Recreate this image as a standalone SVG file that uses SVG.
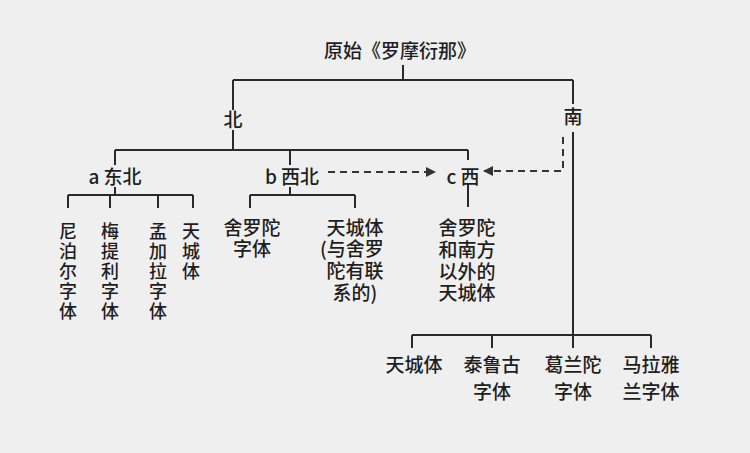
<svg xmlns="http://www.w3.org/2000/svg" width="750" height="453" viewBox="0 0 750 453">
<defs>
<marker id="ah" viewBox="0 0 10 10" refX="9" refY="5" markerWidth="5" markerHeight="5" orient="auto"><path d="M0,0 L10,5 L0,10 z" fill="#333"/></marker>
</defs>
<style>
text{font-family:"Noto Sans CJK SC","Liberation Sans",sans-serif;font-size:19px;font-weight:500;fill:#1e1e1e;text-anchor:middle}
text.v{font-size:18px;writing-mode:vertical-rl;text-anchor:start;letter-spacing:2px}
.l{stroke:#2a2a2a;stroke-width:2;fill:none}
.d{stroke:#333;stroke-width:2;fill:none;stroke-dasharray:7,5}
</style>
<rect width="750" height="453" fill="#efefef"/>
<g id="connectors">
<path class="l" d="M403,65V80M233,80H573M573,80V104M233,80V110M233,130V150M115,150H468M115,150V165M290,150V165M468,150V160M468,183V207"/>
<path class="l" d="M115,187V195M68,195H193M68,195V208M110,195V208M158,195V208M193,195V208"/>
<path class="l" d="M290,187V195M250,195H355M250,195V208M355,195V208"/>
<path class="l" d="M573,132V335M412,335H651M412,335V348M492,335V348M573,335V348M651,335V348"/>
<path class="d" d="M328,172H435" marker-end="url(#ah)"/>
<path class="d" d="M563,137V171H484" marker-end="url(#ah)"/>
</g>
<g id="root"><text x="400" y="58">原始《罗摩衍那》</text></g>
<g id="north"><text x="233" y="127">北</text></g>
<g id="south"><text x="573" y="124">南</text></g>
<g id="ne"><text x="115" y="184">a 东北</text></g>
<g id="nw"><text x="292" y="184">b 西北</text></g>
<g id="w"><text x="463" y="184">c 西</text></g>
<g id="n1"><text class="v" x="68" y="222">尼泊尔字体</text></g>
<g id="n2"><text class="v" x="110" y="222">梅提利字体</text></g>
<g id="n3"><text class="v" x="158" y="222">孟加拉字体</text></g>
<g id="n4"><text class="v" x="191" y="222">天城体</text></g>
<g id="b1"><text x="252" y="235">舍罗陀</text><text x="252" y="256">字体</text></g>
<g id="b2"><text x="355" y="235">天城体</text><text x="352" y="256">(与舍罗</text><text x="355" y="278">陀有联</text><text x="355" y="300">系的)</text></g>
<g id="c1"><text x="467" y="235">舍罗陀</text><text x="467" y="257">和南方</text><text x="467" y="279">以外的</text><text x="467" y="300">天城体</text></g>
<g id="s1"><text x="414" y="372">天城体</text></g>
<g id="s2"><text x="492" y="372">泰鲁古</text><text x="492" y="399">字体</text></g>
<g id="s3"><text x="573" y="372">葛兰陀</text><text x="573" y="399">字体</text></g>
<g id="s4"><text x="651" y="372">马拉雅</text><text x="651" y="399">兰字体</text></g>
</svg>
